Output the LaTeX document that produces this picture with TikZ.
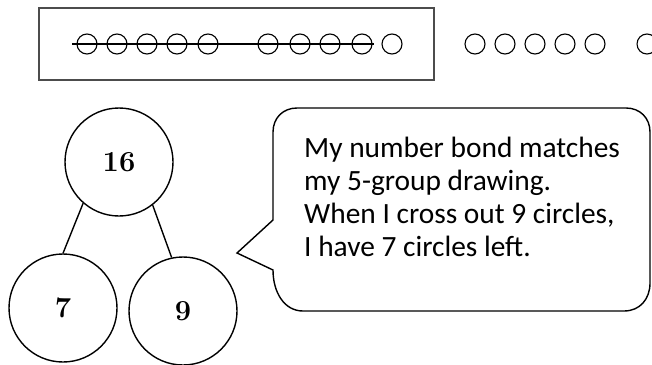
\documentclass[tikz,border=0pt]{standalone}
\usepackage{fontspec}
\newfontfamily\bubblefont{Carlito}
\usepackage{tikz}

\begin{document}
\begin{tikzpicture}[x=1pt,y=-1pt,
    bond/.style={draw,circle,line width=1.4pt,minimum size=108pt,inner sep=0pt,font=\fontsize{29}{29}\selectfont\bfseries},
    dot/.style={draw,circle,line width=1.1pt,minimum size=20pt,inner sep=0pt}]
  \useasboundingbox (0,0) rectangle (652,364);
  % 5-group drawing
  \node[draw=black!70,line width=2.5pt,minimum width=395pt,minimum height=72pt,inner sep=0pt] (frame) at (236.5,44) {};
  \foreach \x [count=\i] in {87,117,147,177,208,268,300,330,362,392,475,505,535,565,595,647}
    \node[dot] (dot\i) at (\x,44) {};
  \draw[line width=1.1pt] ([xshift=-4pt]dot1.west) -- ([xshift=1pt]dot9.east);
  % number bond
  \node[bond] (whole) at (119,162) {16};
  \node[bond] (partA) at (63,308) {7};
  \node[bond] (partB) at (183,311) {9};
  \draw[line width=1.4pt] (whole.229) -- (partA.north);
  \draw[line width=1.4pt] (whole.308) -- (partB.102);
  % speech bubble
  \draw[line width=1.4pt] (273,220) -- (273,132) .. controls (273,118) and (283,108) .. (297,108)
    -- (626,108) .. controls (640,108) and (650,118) .. (650,132)
    -- (650,283) .. controls (650,299) and (640,311) .. (624,311)
    -- (303,311) .. controls (284,311) and (273,292) .. (273,270) -- (237,253) -- cycle;
  \node[anchor=base west,align=left,inner sep=0pt,font=\bubblefont\fontsize{29.4}{33}\selectfont] (talk) at (304,256)
    {My number bond matches\\my 5-group drawing.\\When I cross out 9 circles,\\I have 7 circles left.};
\end{tikzpicture}
\end{document}
